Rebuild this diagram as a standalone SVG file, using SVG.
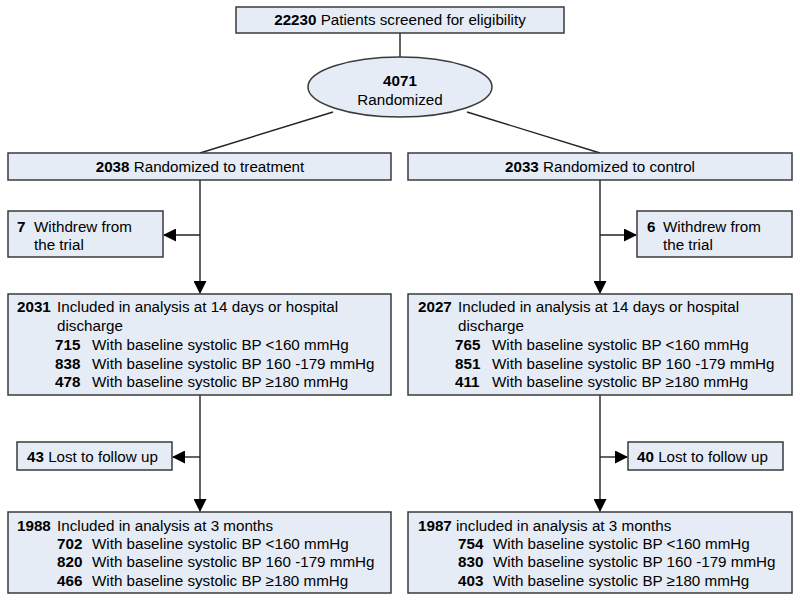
<svg xmlns="http://www.w3.org/2000/svg" width="800" height="600" viewBox="0 0 800 600">
<style>
.box{fill:#e5ecf6;stroke:#3a3a3a;stroke-width:1.5}
text{font-family:"Liberation Sans",Arial,sans-serif;font-size:15.2px;fill:#000}
.b{font-weight:bold}
.ln{stroke:#222;stroke-width:1.4;fill:none}
</style>
<defs>
<marker id="ah" markerWidth="13" markerHeight="13" refX="12" refY="6.5" orient="auto" markerUnits="userSpaceOnUse">
<path d="M0,0 L13,6.5 L0,13 Z" fill="#000"/>
</marker>
</defs>
<rect width="800" height="600" fill="#fff"/>
<g id="connectors">
<line class="ln" x1="400" y1="33" x2="400" y2="57"/>
<line class="ln" x1="333" y1="112" x2="200" y2="153"/>
<line class="ln" x1="467" y1="112" x2="600" y2="153"/>
<line class="ln" x1="200" y1="180" x2="200" y2="293" marker-end="url(#ah)"/>
<line class="ln" x1="200" y1="235" x2="164" y2="235" marker-end="url(#ah)"/>
<line class="ln" x1="600" y1="180" x2="600" y2="293" marker-end="url(#ah)"/>
<line class="ln" x1="600" y1="235" x2="636" y2="235" marker-end="url(#ah)"/>
<line class="ln" x1="200" y1="395" x2="200" y2="511" marker-end="url(#ah)"/>
<line class="ln" x1="200" y1="457" x2="173" y2="457" marker-end="url(#ah)"/>
<line class="ln" x1="600" y1="395" x2="600" y2="511" marker-end="url(#ah)"/>
<line class="ln" x1="600" y1="457" x2="627" y2="457" marker-end="url(#ah)"/>
</g>
<g id="screened">
<rect class="box" x="236" y="7" width="328" height="26"/>
<text x="400" y="25" text-anchor="middle"><tspan class="b">22230</tspan> Patients screened for eligibility</text>
</g>
<g id="randomized">
<ellipse class="box" cx="400" cy="87" rx="92" ry="30"/>
<text x="400" y="86" text-anchor="middle" class="b">4071</text>
<text x="400" y="105" text-anchor="middle">Randomized</text>
</g>
<g id="treatment">
<rect class="box" x="8" y="153" width="383" height="27"/>
<text x="200" y="172" text-anchor="middle"><tspan class="b">2038</tspan> Randomized to treatment</text>
</g>
<g id="control">
<rect class="box" x="408" y="153" width="384" height="27"/>
<text x="600" y="172" text-anchor="middle"><tspan class="b">2033</tspan> Randomized to control</text>
</g>
<g id="withdrew-treatment">
<rect class="box" x="8" y="211" width="155" height="46"/>
<text x="17" y="232" class="b">7</text>
<text x="34" y="232">Withdrew from</text>
<text x="34" y="250">the trial</text>
</g>
<g id="withdrew-control">
<rect class="box" x="637" y="211" width="155" height="46"/>
<text x="647" y="232" class="b">6</text>
<text x="663" y="232">Withdrew from</text>
<text x="663" y="250">the trial</text>
</g>
<g id="included14-treatment">
<rect class="box" x="8" y="294" width="383" height="101"/>
<text x="17" y="312" class="b">2031</text>
<text x="57" y="312">Included in analysis at 14 days or hospital</text>
<text x="57" y="331">discharge</text>
<text x="55" y="350" class="b">715</text>
<text x="92" y="350">With baseline systolic BP &lt;160 mmHg</text>
<text x="55" y="369" class="b">838</text>
<text x="92" y="369">With baseline systolic BP 160 -179 mmHg</text>
<text x="55" y="387" class="b">478</text>
<text x="92" y="387">With baseline systolic BP ≥180 mmHg</text>
</g>
<g id="included14-control">
<rect class="box" x="408" y="294" width="384" height="101"/>
<text x="418" y="312" class="b">2027</text>
<text x="458" y="312">Included in analysis at 14 days or hospital</text>
<text x="458" y="331">discharge</text>
<text x="455" y="350" class="b">765</text>
<text x="492" y="350">With baseline systolic BP &lt;160 mmHg</text>
<text x="455" y="369" class="b">851</text>
<text x="492" y="369">With baseline systolic BP 160 -179 mmHg</text>
<text x="455" y="387" class="b">411</text>
<text x="492" y="387">With baseline systolic BP ≥180 mmHg</text>
</g>
<g id="lost-treatment">
<rect class="box" x="17" y="442" width="155" height="28"/>
<text x="27" y="462"><tspan class="b">43</tspan> Lost to follow up</text>
</g>
<g id="lost-control">
<rect class="box" x="628" y="442" width="155" height="28"/>
<text x="637" y="462"><tspan class="b">40</tspan> Lost to follow up</text>
</g>
<g id="included3-treatment">
<rect class="box" x="8" y="512" width="383" height="81"/>
<text x="17" y="531" class="b">1988</text>
<text x="57" y="531">Included in analysis at 3 months</text>
<text x="57" y="549" class="b">702</text>
<text x="92" y="549">With baseline systolic BP &lt;160 mmHg</text>
<text x="57" y="567" class="b">820</text>
<text x="92" y="567">With baseline systolic BP 160 -179 mmHg</text>
<text x="57" y="586" class="b">466</text>
<text x="92" y="586">With baseline systolic BP ≥180 mmHg</text>
</g>
<g id="included3-control">
<rect class="box" x="408" y="512" width="384" height="81"/>
<text x="418" y="531" class="b">1987</text>
<text x="456" y="531">included in analysis at 3 months</text>
<text x="458" y="549" class="b">754</text>
<text x="493" y="549">With baseline systolic BP &lt;160 mmHg</text>
<text x="458" y="567" class="b">830</text>
<text x="493" y="567">With baseline systolic BP 160 -179 mmHg</text>
<text x="458" y="586" class="b">403</text>
<text x="493" y="586">With baseline systolic BP ≥180 mmHg</text>
</g>
</svg>
